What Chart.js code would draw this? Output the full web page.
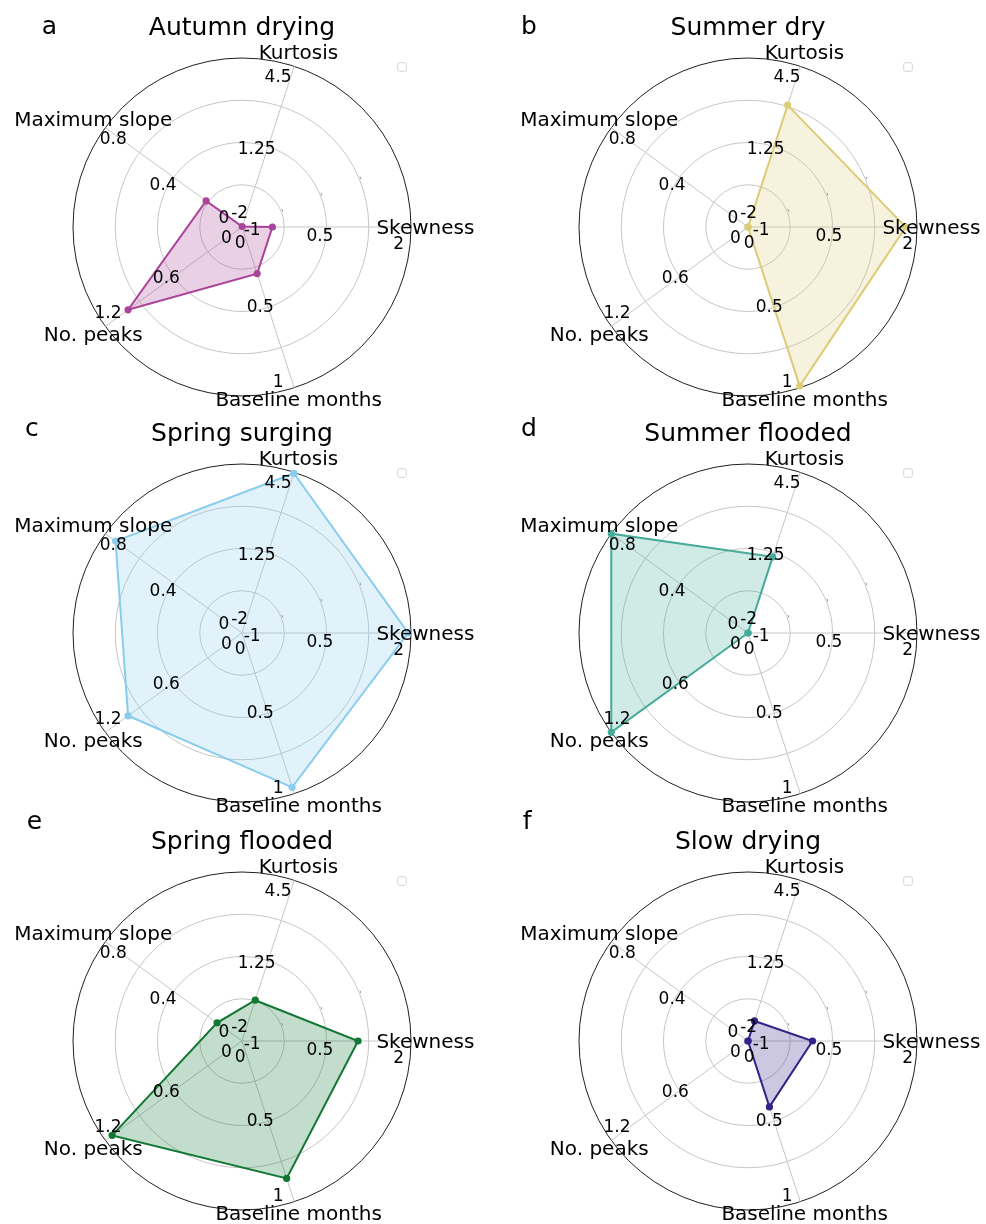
<!DOCTYPE html>
<html>
<head>
<meta charset="utf-8">
<script src="https://cdn.jsdelivr.net/npm/chart.js@4.4.0/dist/chart.umd.min.js"></script>
<style>
  html, body { margin: 0; padding: 0; background: #ffffff; }
  #wrap { position: relative; width: 986px; height: 1224px; overflow: hidden; background: #ffffff; }
  #wrap canvas { position: absolute; left: 0; top: 0; }
</style>
</head>
<body>
<div id="wrap"></div>
<script>
// Spokes in clockwise drawing order, starting with the upper-right spoke
const categories = ['Kurtosis', 'Skewness', 'Baseline months', 'No. peaks', 'Maximum slope'];
// Each spoke has its own value range (centre -> outer ring)
const axisMin = [-2, -1, 0, 0, 0];
const axisMax = [4.5, 2, 1, 1.2, 0.8];
// Tick values and their labels on each spoke (centre, middle, outer)
const tickValues = [[-2, 1.25, 4.5], [-1, 0.5, 2], [0, 0.5, 1], [0, 0.6, 1.2], [0, 0.4, 0.8]];
const tickLabels = [['-2', '1.25', '4.5'], ['-1', '0.5', '2'], ['0', '0.5', '1'], ['0', '0.6', '1.2'], ['0', '0.4', '0.8']];

// Profile titles and letters
const panelTitles = ['Autumn drying', 'Summer dry', 'Spring surging', 'Summer flooded', 'Spring flooded', 'Slow drying'];
const panelLetters = ['a', 'b', 'c', 'd', 'e', 'f'];

// Values per profile, in the order of `categories`
const autumnDrying  = [-1.98, -0.46, 0.29, 1.00, 0.21];
const summerDry     = [2.93, 1.80, 0.99, 0.00, 0.00];
const springSurging = [4.46, 1.95, 0.96, 1.00, 0.74];
const summerFlooded = [1.08, -1.00, 0.00, 1.20, 0.80];
const springFlooded = [-0.35, 1.06, 0.855, 1.14, 0.146];
const slowDrying    = [-1.19, 0.145, 0.41, 0.00, 0.00];

const panelValues = [autumnDrying, summerDry, springSurging, summerFlooded, springFlooded, slowDrying];
const panelColors = ['#AA4499', '#DDCC77', '#88CCEE', '#44AA99', '#117733', '#332288'];

// ---- layout / style ----
const W = 986, H = 1224;
const RADIUS = 169;
const centers = [[242, 227], [748, 227], [242, 633], [748, 633], [242, 1041], [748, 1041]];
const letterPos = [[41.7, 34.3], [521, 34.3], [25, 436], [521, 436], [26.7, 828.5], [522.7, 828.5]];
const FONT = '"DejaVu Sans", "Liberation Sans", sans-serif';
const TICK_SIZE = 17, AXIS_SIZE = 20, TITLE_SIZE = 25, LETTER_SIZE = 25;
// pixel nudges of tick labels from their value position [centre, middle, outer]
const tickNudge = [
  [[-2.3, -15], [-11.4, 0.8], [-16.1, 10]],
  [[10.2, 2.3], [-6.6, 8.3], [-12.3, 16]],
  [[-1.8, 15.3], [-7.9, -1.5], [-16.1, -7.4]],
  [[-15.6, 10], [-7.3, 0.6], [2.7, -15]],
  [[-18, -10], [-10.5, 6.6], [7.9, 10]]
];
// nudges of spoke names from the outer end of each spoke
const nameNudge = [[4.2, -15], [14.4, -0.7], [4.4, 10.6], [-12, 7.5], [-12, -9]];

function norm(i, v) {
  return (v - axisMin[i]) / (axisMax[i] - axisMin[i]);
}

function hexToRgba(hex, a) {
  const n = parseInt(hex.slice(1), 16);
  return `rgba(${(n >> 16) & 255}, ${(n >> 8) & 255}, ${n & 255}, ${a})`;
}

// Draw text centred on (x, y) where y is the middle of the cap height
function centredText(ctx, str, x, y, size) {
  ctx.font = `${size}px ${FONT}`;
  ctx.textAlign = 'center';
  ctx.textBaseline = 'alphabetic';
  ctx.fillText(str, x, y + 0.3645 * size);
}

const radarDecor = {
  id: 'radarDecor',
  afterDatasetsDraw(chart, args, opts) {
    const ctx = chart.ctx;
    const r = chart.scales.r;
    const R = r.drawingArea;
    const cx = r.xCenter, cy = r.yCenter;
    ctx.save();

    // tiny marks left on the rings at 22.5 degrees
    ctx.strokeStyle = '#9a9a9a';
    ctx.lineWidth = 1;
    const th = 22.5 * Math.PI / 180;
    [0.25, 0.5, 0.75].forEach(f => {
      const d = f * R + 1.5;
      const x = cx + d * Math.cos(th), y = cy - d * Math.sin(th);
      ctx.beginPath();
      ctx.moveTo(x - 0.4, y - 1.3);
      ctx.lineTo(x + 0.4, y + 1.3);
      ctx.stroke();
    });

    // empty legend frame
    const lx = cx + 160, ly = cy - 160, s = 8.6;
    ctx.fillStyle = '#ffffff';
    ctx.strokeStyle = '#d4d4d4';
    ctx.beginPath();
    ctx.roundRect(lx - s / 2, ly - s / 2, s, s, 1.8);
    ctx.fill();
    ctx.stroke();

    ctx.fillStyle = '#000000';
    categories.forEach((cat, i) => {
      tickValues[i].forEach((tv, k) => {
        const pos = r.getPointPositionForValue(i, norm(i, tv));
        const nd = tickNudge[i][k];
        centredText(ctx, tickLabels[i][k], pos.x + nd[0] + opts.tickShift, pos.y + nd[1], TICK_SIZE);
      });
      const end = r.getPointPosition(i, R);
      centredText(ctx, cat, end.x + nameNudge[i][0], end.y + nameNudge[i][1], AXIS_SIZE);
    });

    // title
    ctx.font = `${TITLE_SIZE}px ${FONT}`;
    ctx.textAlign = 'center';
    ctx.textBaseline = 'alphabetic';
    ctx.fillText(opts.title, cx, cy - 192.5);

    // panel letter
    ctx.font = `${LETTER_SIZE}px ${FONT}`;
    ctx.textAlign = 'left';
    ctx.fillText(opts.letter, opts.letterX, opts.letterY);

    ctx.restore();
  }
};

const wrap = document.getElementById('wrap');

panelValues.forEach((vals, p) => {
  const canvas = document.createElement('canvas');
  canvas.width = W;
  canvas.height = H;
  canvas.style.width = W + 'px';
  canvas.style.height = H + 'px';
  wrap.appendChild(canvas);

  const [cx, cy] = centers[p];
  const color = panelColors[p];

  new Chart(canvas.getContext('2d'), {
    type: 'radar',
    data: {
      labels: categories,
      datasets: [{
        label: panelTitles[p],
        data: vals.map((v, i) => norm(i, v)),
        borderColor: color,
        backgroundColor: hexToRgba(color, 0.25),
        borderWidth: 2,
        fill: true,
        pointRadius: 3.6,
        pointBackgroundColor: color,
        pointBorderColor: color,
        pointBorderWidth: 0,
        clip: false
      }]
    },
    options: {
      responsive: false,
      animation: false,
      devicePixelRatio: 1,
      layout: {
        padding: { left: cx - RADIUS, right: W - cx - RADIUS, top: cy - RADIUS, bottom: H - cy - RADIUS }
      },
      elements: { line: { tension: 0 } },
      plugins: {
        legend: { display: false },
        tooltip: { enabled: false },
        title: { display: false },
        radarDecor: {
          title: panelTitles[p],
          letter: panelLetters[p],
          letterX: letterPos[p][0],
          letterY: letterPos[p][1],
          tickShift: (p % 2 === 1) ? 3 : 0
        }
      },
      scales: {
        r: {
          min: 0,
          max: 1,
          startAngle: 18,
          beginAtZero: true,
          ticks: { display: false, stepSize: 0.25 },
          grid: {
            circular: true,
            lineWidth: 1,
            color: (c) => (c.tick && c.tick.value >= 0.999) ? '#1f1f1f' : '#c6c6c6'
          },
          angleLines: { color: '#c6c6c6', lineWidth: 1 },
          pointLabels: { display: false }
        }
      }
    },
    plugins: [radarDecor]
  });
});
</script>
</body>
</html>
